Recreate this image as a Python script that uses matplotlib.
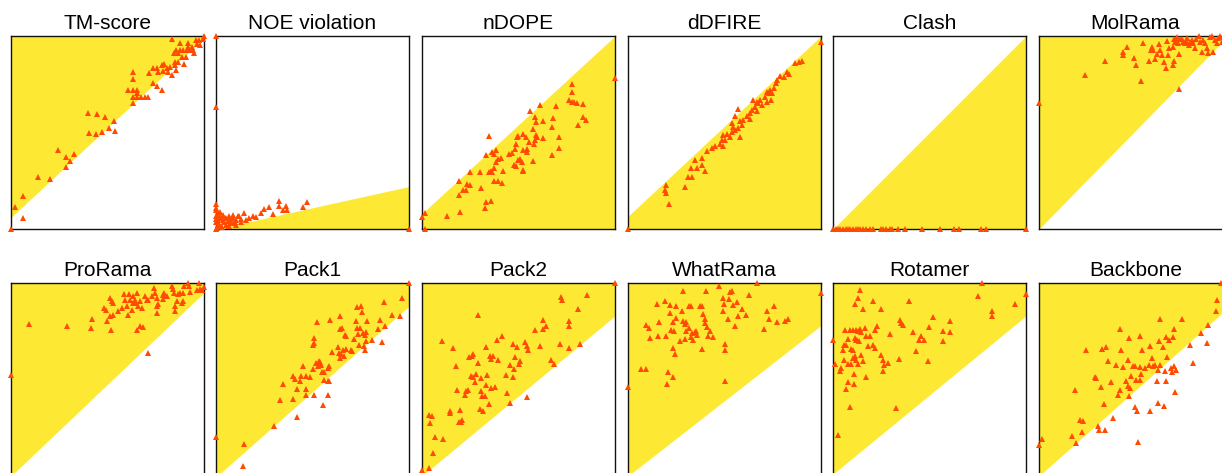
import matplotlib
matplotlib.use("Agg")
import matplotlib.pyplot as plt

plt.rcParams['font.family'] = ['Liberation Sans', 'DejaVu Sans']

titles = ["TM-score", "NOE violation", "nDOPE", "dDFIRE", "Clash", "MolRama",
          "ProRama", "Pack1", "Pack2", "WhatRama", "Rotamer", "Backbone"]

# diagonal boundary of the yellow region: y at x=0 and y at x=1 (axes units 0..1)
diag_left = [0.06, 0.0, 0.08, 0.066, 0.0, 0.0, 0.0, -0.006, 0.0, 0.0, 0.01, 0.0]
diag_right = [0.99, 0.22, 1.0, 1.0, 1.0, 1.02, 0.95, 0.88, 0.83, 0.78, 0.83, 0.89]
fill_above = [True, False, False, False, False, True, True, True, True, True, True, True]

tm_x = [1.0, 0.997, 0.976, 0.959, 0.836, 0.876, 0.919, 0.915, 0.936, 0.962, 0.979, 0.855, 0.876, 0.889,
        0.910, 0.927, 0.945, 0.845, 0.867, 0.948, 0.884, 0.905, 0.850, 0.867, 0.896, 0.734, 0.758, 0.781,
        0.794, 0.807, 0.824, 0.850, 0.855, 0.717, 0.763, 0.789, 0.815, 0.836, 0.630, 0.630, 0.734, 0.755,
        0.781, 0.608, 0.630, 0.651, 0.651, 0.630, 0.651, 0.672, 0.694, 0.712, 0.630, 0.401, 0.447, 0.487,
        0.534, 0.406, 0.440, 0.470, 0.508, 0.541, 0.245, 0.326, 0.285, 0.306, 0.285, 0.138, 0.202, 0.060,
        0.019, 0.060, 0.0]
tm_y = [1.0, 0.983, 0.979, 0.979, 0.983, 0.962, 0.962, 0.945, 0.945, 0.959, 0.953, 0.928, 0.928, 0.928,
        0.928, 0.928, 0.928, 0.914, 0.914, 0.910, 0.890, 0.890, 0.867, 0.867, 0.855, 0.833, 0.833, 0.850,
        0.853, 0.833, 0.841, 0.850, 0.824, 0.810, 0.816, 0.819, 0.816, 0.798, 0.816, 0.778, 0.759, 0.741,
        0.721, 0.721, 0.721, 0.721, 0.703, 0.686, 0.686, 0.686, 0.686, 0.686, 0.652, 0.600, 0.595, 0.578,
        0.557, 0.497, 0.491, 0.502, 0.522, 0.509, 0.410, 0.390, 0.372, 0.353, 0.319, 0.269, 0.260, 0.169,
        0.114, 0.059, 0.0]

noe_x = [0.0, 0.0, 1.0, 0.0, 0.0, 0.0, 0.009, 0.017, 0.026, 0.035, 0.052, 0.069, 0.087, 0.104, 0.121,
         0.147, 0.170, 0.190, 0.208, 0.234, 0.251, 0.277, 0.294, 0.325, 0.329, 0.346, 0.363, 0.369, 0.450,
         0.471, 0.087, 0.052, 0.017, 0.0, 0.026, 0.069, 0.104, 0.130, 0.156, 0.009, 0.035, 0.061, 0.0,
         0.087, 0.112, 0.0, 0.01, 0.04, 0.07, 0.10, 0.02, 0.0, 0.13, 0.045, 0.075, 0.005, 0.03]
noe_y = [1.0, 0.634, 0.0, 0.0, 0.131, 0.100, 0.083, 0.066, 0.057, 0.048, 0.057, 0.066, 0.057, 0.048, 0.069,
         0.083, 0.057, 0.066, 0.062, 0.083, 0.103, 0.114, 0.079, 0.117, 0.147, 0.100, 0.117, 0.097, 0.114,
         0.140, 0.031, 0.022, 0.028, 0.034, 0.014, 0.014, 0.022, 0.034, 0.045, 0.045, 0.074, 0.040, 0.066,
         0.074, 0.066, 0.05, 0.02, 0.035, 0.045, 0.035, 0.09, 0.11, 0.05, 0.055, 0.03, 0.005, 0.01]

ndope_x = [1.0, 0.014, 0.014, 0.0, 0.131, 0.196, 0.329, 0.334, 0.356, 0.192, 0.213, 0.230, 0.234, 0.247,
           0.190, 0.247, 0.299, 0.304, 0.346, 0.355, 0.365, 0.372, 0.374, 0.394, 0.412, 0.382, 0.394, 0.407,
           0.420, 0.334, 0.365, 0.386, 0.372, 0.452, 0.464, 0.481, 0.486, 0.476, 0.486, 0.498, 0.510, 0.516,
           0.521, 0.524, 0.524, 0.542, 0.545, 0.576, 0.490, 0.498, 0.524, 0.538, 0.554, 0.580, 0.585, 0.576,
           0.590, 0.597, 0.625, 0.711, 0.711, 0.676, 0.348, 0.559, 0.611, 0.585, 0.590, 0.625, 0.680, 0.676,
           0.692, 0.775, 0.775, 0.763, 0.779, 0.789, 0.801, 0.832, 0.836, 0.848, 0.810]
ndope_y = [0.781, 0.0, 0.083, 0.062, 0.066, 0.088, 0.110, 0.140, 0.147, 0.174, 0.203, 0.203, 0.234, 0.229,
           0.247, 0.297, 0.297, 0.214, 0.297, 0.302, 0.293, 0.317, 0.247, 0.250, 0.238, 0.345, 0.364, 0.366,
           0.303, 0.384, 0.397, 0.407, 0.388, 0.388, 0.393, 0.414, 0.440, 0.331, 0.324, 0.359, 0.362, 0.345,
           0.298, 0.307, 0.407, 0.417, 0.397, 0.350, 0.479, 0.483, 0.491, 0.476, 0.453, 0.440, 0.459, 0.517,
           0.488, 0.479, 0.471, 0.479, 0.422, 0.384, 0.483, 0.609, 0.641, 0.579, 0.552, 0.562, 0.574, 0.531,
           0.638, 0.750, 0.710, 0.669, 0.660, 0.657, 0.652, 0.650, 0.579, 0.566, 0.540]

dfire_x = [1.0, 0.0, 0.867, 0.884, 0.901, 0.823, 0.832, 0.806, 0.789, 0.771, 0.768, 0.754, 0.737, 0.719,
           0.728, 0.745, 0.711, 0.740, 0.719, 0.685, 0.667, 0.650, 0.676, 0.693, 0.659, 0.641, 0.667, 0.633,
           0.615, 0.598, 0.633, 0.572, 0.555, 0.581, 0.537, 0.546, 0.555, 0.572, 0.589, 0.537, 0.511, 0.494,
           0.485, 0.503, 0.529, 0.581, 0.494, 0.477, 0.451, 0.433, 0.407, 0.386, 0.347, 0.386, 0.329, 0.355,
           0.399, 0.312, 0.334, 0.295, 0.199, 0.191, 0.199, 0.213]
dfire_y = [0.971, 0.0, 0.859, 0.867, 0.872, 0.816, 0.803, 0.790, 0.793, 0.772, 0.755, 0.729, 0.721, 0.712,
           0.703, 0.703, 0.686, 0.669, 0.660, 0.669, 0.660, 0.669, 0.652, 0.643, 0.634, 0.617, 0.609, 0.600,
           0.586, 0.566, 0.569, 0.622, 0.583, 0.562, 0.548, 0.531, 0.514, 0.522, 0.540, 0.505, 0.493, 0.488,
           0.462, 0.462, 0.479, 0.479, 0.428, 0.441, 0.428, 0.419, 0.402, 0.367, 0.359, 0.333, 0.316, 0.316,
           0.303, 0.272, 0.272, 0.217, 0.229, 0.200, 0.186, 0.131]

clash_x = [0.0, 0.014, 0.026, 0.038, 0.052, 0.066, 0.078, 0.090, 0.103, 0.117, 0.129, 0.141, 0.155, 0.172,
           0.190, 0.207, 0.247, 0.259, 0.276, 0.293, 0.307, 0.336, 0.371, 0.462, 0.555, 0.629, 0.652, 0.767,
           0.793, 1.0]
clash_y = [0.0] * len(clash_x)

molrama_x = [0.0, 0.240, 0.344, 0.531, 0.727, 0.436, 0.436, 0.457, 0.493, 0.505, 0.540, 0.571, 0.578, 0.588,
             0.592, 0.600, 0.612, 0.623, 0.626, 0.635, 0.647, 0.657, 0.661, 0.670, 0.675, 0.692, 0.696, 0.699,
             0.713, 0.704, 0.721, 0.727, 0.730, 0.744, 0.756, 0.765, 0.782, 0.791, 0.799, 0.808, 0.830, 0.834,
             0.843, 0.851, 0.860, 0.869, 0.877, 0.886, 0.894, 0.903, 0.912, 0.920, 0.929, 0.938, 0.946, 0.955,
             0.972, 0.990, 0.715, 0.740, 0.760, 0.700, 0.775, 0.812]
molrama_y = [0.652, 0.798, 0.871, 0.769, 0.726, 0.919, 0.902, 0.945, 0.888, 0.850, 0.966, 0.872, 0.928, 0.945,
             0.928, 0.879, 0.907, 0.959, 0.928, 0.902, 0.867, 0.836, 0.976, 0.902, 0.936, 0.945, 0.850, 0.872,
             0.993, 0.971, 0.962, 0.907, 0.983, 0.971, 0.962, 0.988, 0.971, 0.979, 0.966, 0.936, 1.0, 0.971,
             0.919, 0.979, 0.962, 0.936, 0.910, 0.997, 1.0, 0.919, 0.979, 0.962, 0.988, 1.0, 0.971, 0.997,
             0.993, 0.988, 0.975, 0.985, 0.975, 0.985, 0.955, 0.985]

prorama_x = [0.0, 0.095, 0.288, 0.413, 0.421, 0.499, 0.518, 0.651, 0.668, 0.682, 0.712, 0.513, 0.530, 0.482,
             0.492, 0.513, 0.522, 0.527, 0.556, 0.573, 0.585, 0.591, 0.599, 0.608, 0.613, 0.617, 0.625, 0.630,
             0.634, 0.642, 0.651, 0.648, 0.660, 0.668, 0.677, 0.694, 0.703, 0.712, 0.741, 0.746, 0.755, 0.758,
             0.763, 0.786, 0.789, 0.793, 0.836, 0.841, 0.845, 0.850, 0.850, 0.858, 0.867, 0.876, 0.884, 0.889,
             0.893, 0.898, 0.919, 0.924, 0.927, 0.962, 0.972, 0.979, 0.988, 1.0, 0.807, 0.729, 0.755]
prorama_y = [0.525, 0.789, 0.775, 0.767, 0.813, 0.801, 0.755, 0.755, 0.775, 0.770, 0.637, 0.831, 0.836, 0.870,
             0.858, 0.922, 0.905, 0.896, 0.853, 0.870, 0.945, 0.914, 0.879, 0.836, 0.945, 0.914, 0.862, 0.931,
             0.896, 0.914, 0.948, 0.896, 0.879, 0.905, 0.870, 0.931, 0.914, 0.914, 0.974, 0.948, 0.879, 0.845,
             0.893, 0.940, 0.917, 0.948, 0.983, 0.969, 0.948, 0.883, 0.853, 0.905, 0.945, 0.948, 0.896, 0.905,
             0.948, 0.983, 1.0, 0.983, 0.952, 0.965, 1.0, 0.969, 0.965, 0.979, 0.931, 0.931, 0.922]

pack1_x = [0.0, 0.144, 0.138, 0.299, 0.419, 0.334, 0.346, 0.401, 0.401, 0.407, 0.433, 0.441, 0.453, 0.420,
           0.464, 0.464, 0.467, 0.488, 0.502, 0.510, 0.519, 0.528, 0.533, 0.540, 0.545, 0.550, 0.557, 0.562,
           0.554, 0.580, 0.580, 0.588, 0.580, 0.585, 0.502, 0.510, 0.510, 0.522, 0.592, 0.600, 0.631, 0.640,
           0.637, 0.644, 0.649, 0.640, 0.654, 0.657, 0.661, 0.666, 0.671, 0.675, 0.701, 0.706, 0.715, 0.723,
           0.730, 0.730, 0.735, 0.740, 0.744, 0.753, 0.758, 0.761, 0.765, 0.770, 0.770, 0.775, 0.779, 0.784,
           0.810, 0.839, 0.851, 0.862, 0.869, 0.874, 0.913, 0.952, 0.965, 1.0]
pack1_y = [0.202, 0.168, 0.054, 0.257, 0.304, 0.392, 0.477, 0.399, 0.520, 0.503, 0.491, 0.520, 0.568, 0.451,
           0.516, 0.451, 0.421, 0.511, 0.556, 0.421, 0.585, 0.568, 0.594, 0.589, 0.577, 0.537, 0.537, 0.499,
           0.370, 0.421, 0.491, 0.494, 0.560, 0.568, 0.680, 0.715, 0.689, 0.798, 0.810, 0.641, 0.667, 0.827,
           0.637, 0.611, 0.634, 0.763, 0.767, 0.655, 0.623, 0.732, 0.658, 0.727, 0.655, 0.646, 0.712, 0.805,
           0.876, 0.767, 0.736, 0.680, 0.767, 0.879, 0.848, 0.741, 0.672, 0.655, 0.732, 0.698, 0.744, 0.805,
           0.706, 0.763, 0.810, 0.693, 0.902, 0.779, 0.832, 0.827, 0.922, 1.0]

pack2_x = [1.0, 0.0, 0.035, 0.057, 0.066, 0.109, 0.040, 0.035, 0.052, 0.104, 0.161, 0.144, 0.147, 0.196,
           0.192, 0.204, 0.209, 0.183, 0.178, 0.230, 0.221, 0.239, 0.244, 0.261, 0.265, 0.256, 0.265, 0.273,
           0.282, 0.291, 0.291, 0.304, 0.308, 0.303, 0.317, 0.313, 0.325, 0.330, 0.334, 0.337, 0.346, 0.351,
           0.356, 0.360, 0.369, 0.377, 0.389, 0.394, 0.413, 0.434, 0.443, 0.458, 0.455, 0.469, 0.472, 0.476,
           0.481, 0.490, 0.503, 0.507, 0.533, 0.542, 0.545, 0.550, 0.585, 0.611, 0.628, 0.628, 0.645, 0.666,
           0.683, 0.715, 0.718, 0.723, 0.760, 0.760, 0.763, 0.810, 0.818, 0.856]
pack2_y = [1.0, 0.033, 0.041, 0.119, 0.202, 0.192, 0.275, 0.314, 0.313, 0.698, 0.661, 0.335, 0.326, 0.340,
           0.278, 0.278, 0.292, 0.447, 0.568, 0.439, 0.421, 0.444, 0.617, 0.620, 0.634, 0.520, 0.513, 0.485,
           0.530, 0.585, 0.836, 0.508, 0.439, 0.347, 0.339, 0.413, 0.416, 0.473, 0.668, 0.525, 0.375, 0.620,
           0.606, 0.456, 0.623, 0.461, 0.703, 0.603, 0.724, 0.525, 0.430, 0.378, 0.577, 0.511, 0.686, 0.554,
           0.617, 0.668, 0.582, 0.594, 0.693, 0.672, 0.408, 0.655, 0.755, 0.672, 0.807, 0.763, 0.779, 0.603,
           0.582, 0.686, 0.926, 0.910, 0.801, 0.779, 0.663, 0.867, 0.686, 0.940]

whatrama_x = [0.0, 0.066, 0.092, 0.095, 0.109, 0.113, 0.151, 0.156, 0.161, 0.191, 0.199, 0.203, 0.208, 0.217,
              0.220, 0.225, 0.231, 0.231, 0.234, 0.239, 0.243, 0.251, 0.251, 0.269, 0.282, 0.286, 0.286, 0.295,
              0.295, 0.300, 0.303, 0.317, 0.317, 0.326, 0.329, 0.334, 0.338, 0.347, 0.352, 0.355, 0.373, 0.381,
              0.386, 0.390, 0.399, 0.399, 0.404, 0.407, 0.416, 0.425, 0.438, 0.473, 0.490, 0.494, 0.497, 0.503,
              0.503, 0.503, 0.520, 0.523, 0.529, 0.537, 0.546, 0.555, 0.563, 0.572, 0.589, 0.612, 0.629, 0.667,
              0.705, 0.719, 0.728, 0.757, 0.771, 0.815, 0.827, 1.0]
whatrama_y = [0.459, 0.554, 0.554, 0.784, 0.767, 0.715, 0.893, 0.727, 0.796, 0.905, 0.724, 0.477, 0.539, 0.845,
              0.888, 0.758, 0.511, 0.663, 0.796, 0.750, 0.634, 0.883, 0.819, 0.698, 0.853, 0.957, 0.801, 0.789,
              0.710, 0.750, 0.796, 0.767, 0.883, 0.883, 0.720, 0.741, 0.703, 0.744, 0.750, 0.732, 0.883, 0.879,
              0.660, 0.841, 0.813, 0.793, 0.957, 0.770, 0.727, 0.750, 0.718, 0.983, 0.922, 0.853, 0.893, 0.684,
              0.651, 0.494, 0.815, 0.919, 0.952, 0.957, 0.888, 0.775, 0.900, 0.831, 0.865, 0.836, 0.940, 1.0,
              0.763, 0.853, 0.813, 0.879, 0.798, 0.805, 0.813, 0.948]

rotamer_x = [0.0, 0.009, 0.026, 0.086, 0.066, 0.078, 0.109, 0.107, 0.034, 0.043, 0.057, 0.078, 0.095, 0.103,
             0.112, 0.121, 0.129, 0.147, 0.155, 0.169, 0.052, 0.055, 0.069, 0.078, 0.095, 0.103, 0.117, 0.124,
             0.134, 0.112, 0.086, 0.103, 0.121, 0.129, 0.138, 0.147, 0.164, 0.172, 0.181, 0.190, 0.207, 0.216,
             0.216, 0.228, 0.250, 0.259, 0.262, 0.259, 0.284, 0.297, 0.328, 0.341, 0.345, 0.353, 0.362, 0.417,
             0.431, 0.448, 0.457, 0.469, 0.491, 0.497, 0.517, 0.569, 0.572, 0.607, 0.607, 0.060, 0.112, 0.129,
             0.141, 0.155, 0.207, 0.250, 0.393, 0.750, 0.771, 0.824, 0.824, 0.943, 1.0]
rotamer_y = [0.706, 0.582, 0.214, 0.356, 0.451, 0.487, 0.478, 0.530, 0.542, 0.560, 0.599, 0.580, 0.580, 0.611,
             0.623, 0.603, 0.582, 0.629, 0.594, 0.511, 0.651, 0.680, 0.680, 0.710, 0.660, 0.651, 0.703, 0.706,
             0.698, 0.715, 0.758, 0.758, 0.758, 0.750, 0.762, 0.744, 0.767, 0.724, 0.675, 0.727, 0.680, 0.663,
             0.755, 0.779, 0.629, 0.599, 0.577, 0.542, 0.585, 0.737, 0.352, 0.608, 0.807, 0.793, 0.784, 0.744,
             0.646, 0.703, 0.724, 0.703, 0.598, 0.770, 0.824, 0.750, 0.701, 0.805, 0.744, 0.755, 0.891, 0.922,
             0.962, 0.867, 0.905, 0.867, 0.905, 0.931, 1.0, 0.853, 0.827, 0.891, 0.945]

backbone_x = [0.0, 0.017, 0.173, 0.193, 0.223, 0.211, 0.228, 0.188, 0.245, 0.288, 0.297, 0.306, 0.311, 0.323,
              0.335, 0.344, 0.328, 0.349, 0.358, 0.371, 0.383, 0.401, 0.409, 0.418, 0.418, 0.427, 0.435, 0.449,
              0.461, 0.466, 0.463, 0.470, 0.478, 0.487, 0.496, 0.496, 0.508, 0.513, 0.522, 0.525, 0.530, 0.525,
              0.535, 0.547, 0.570, 0.573, 0.577, 0.587, 0.599, 0.611, 0.617, 0.617, 0.622, 0.629, 0.642, 0.646,
              0.651, 0.656, 0.660, 0.665, 0.674, 0.686, 0.691, 0.694, 0.698, 0.698, 0.703, 0.708, 0.743, 0.784,
              0.798, 0.841, 0.870, 0.876, 0.915, 0.924, 0.945, 0.591, 0.629, 0.501, 0.466]
backbone_y = [0.162, 0.192, 0.209, 0.171, 0.226, 0.288, 0.283, 0.444, 0.655, 0.513, 0.508, 0.257, 0.237, 0.461,
              0.375, 0.240, 0.658, 0.667, 0.594, 0.485, 0.301, 0.573, 0.421, 0.763, 0.447, 0.655, 0.565, 0.494,
              0.603, 0.715, 0.465, 0.456, 0.520, 0.568, 0.572, 0.358, 0.335, 0.174, 0.727, 0.563, 0.530, 0.499,
              0.651, 0.560, 0.577, 0.335, 0.672, 0.611, 0.577, 0.491, 0.551, 0.378, 0.698, 0.813, 0.668, 0.364,
              0.542, 0.491, 0.718, 0.615, 0.706, 0.560, 0.537, 0.718, 0.762, 0.572, 0.434, 0.551, 0.813, 0.677,
              0.585, 0.741, 0.689, 0.784, 0.857, 0.910, 1.0, 0.568, 0.577, 0.499, 0.416]

series_x = [tm_x, noe_x, ndope_x, dfire_x, clash_x, molrama_x,
            prorama_x, pack1_x, pack2_x, whatrama_x, rotamer_x, backbone_x]
series_y = [tm_y, noe_y, ndope_y, dfire_y, clash_y, molrama_y,
            prorama_y, pack1_y, pack2_y, whatrama_y, rotamer_y, backbone_y]

YELLOW = "#FDE933"
ORANGE = "#FF4A00"

W, H = 1222, 473
fig = plt.figure(figsize=(W / 100, H / 100), dpi=100)
fig.patch.set_facecolor("white")

col_left_px = [11, 216, 422, 628, 833, 1039]
row_top_px = [36, 283]
size_px = 193

for i, title in enumerate(titles):
    r, c = divmod(i, 6)
    left = col_left_px[c] / W
    bottom = (H - row_top_px[r] - size_px) / H
    ax = fig.add_axes([left, bottom, size_px / W, size_px / H])
    ax.set_xlim(0, 1)
    ax.set_ylim(0, 1)
    xs = [0, 1]
    ys = [diag_left[i], diag_right[i]]
    if fill_above[i]:
        ax.fill_between(xs, ys, [1.1, 1.1], color=YELLOW, linewidth=0, zorder=1)
    else:
        ax.fill_between(xs, [-0.1, -0.1], ys, color=YELLOW, linewidth=0, zorder=1)
    ax.plot(series_x[i], series_y[i], linestyle="none", marker="^", markersize=3.8,
            markeredgewidth=0, color=ORANGE, clip_on=False, zorder=4)
    ax.set_xticks([])
    ax.set_yticks([])
    for s in ax.spines.values():
        s.set_linewidth(1.0)
        s.set_color("#111111")
        s.set_zorder(3)
    ax.set_title(title, fontsize=15, pad=5)

fig.savefig("out.png", dpi=100)
